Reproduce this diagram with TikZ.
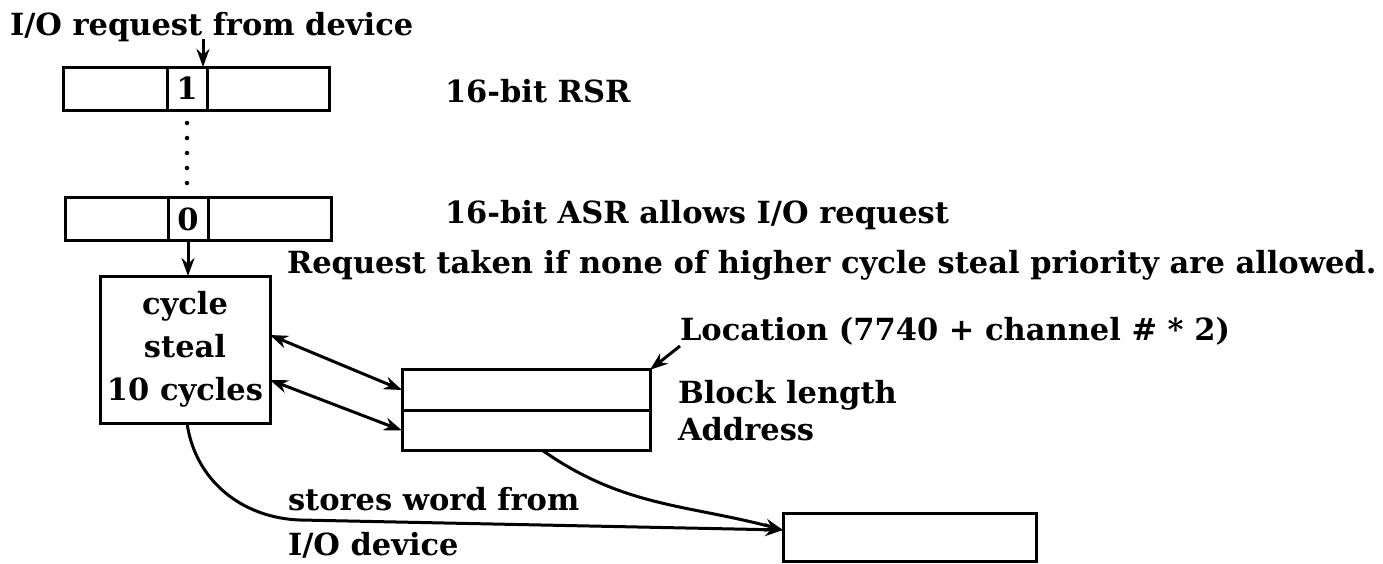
\documentclass[tikz,border=0pt]{standalone}
\usepackage{fontspec}
\setmainfont{DejaVu Serif}
\usetikzlibrary{arrows.meta,positioning,calc}

\begin{document}
\begin{tikzpicture}[x=1pt,y=-1pt,
        every node/.style={font=\fontsize{30.5}{43}\selectfont\bfseries, inner sep=0pt, outer sep=0pt},
        reg/.style={draw, line width=3pt, minimum width=266pt, minimum height=43pt},
        bit/.style={draw, line width=3pt, minimum width=40pt, minimum height=43pt},
        word/.style={draw, line width=3pt, minimum width=248pt, minimum height=40.5pt},
        note/.style={anchor=base west},
        tip/.style={Stealth[length=18pt,width=13pt]},
        arr/.style={line width=3pt, -{Stealth[length=18pt,width=13pt]}},
        dblarr/.style={line width=3pt, {Stealth[length=18pt,width=13pt]}-{Stealth[length=18pt,width=13pt]}}]
        \useasboundingbox (0,0) rectangle (1383,563);

        % request and status registers
        \node (req) [note] at (10,35) {I/O request from device};
        \node (rsr) [reg] at (196,88.5) {};
        \node (rsrbit) [bit] at (187,88.5) {1};
        \node (rsrlbl) [note] at (445,102) {16-bit RSR};

        \node (asr) [reg] at (198,219) {};
        \node (asrbit) [bit] at (188,219) {0};
        \node (asrlbl) [note] at (445,223) {16-bit ASR allows I/O request};
        \node (taken) [note] at (287,273) {Request taken if none of higher cycle steal priority are allowed.};

        % cycle steal
        \node (cs) [draw, line width=3pt, minimum width=170pt, minimum height=147pt, align=center]
            at (185,349.5) {cycle\\steal\\10 cycles};

        % channel words
        \node (blen) [word] at (526,390) {};
        \node (addr) [word, below=0pt of blen] {};
        \node (loc) [note] at (680,340) {Location (7740 + channel \# * 2)};
        \node (blenlbl) [note] at (678,403) {Block length};
        \node (addrlbl) [note] at (678,440) {Address};

        \node (mem) [draw, line width=3pt, minimum width=253pt, minimum height=48pt] at (909.5,537) {};
        \node (stores) [note] at (288,510) {stores word from};
        \node (iodev) [note] at (288,555) {I/O device};

        \coordinate (reqpt) at (203,39);
        \coordinate (locpt) at (680,346);
        \coordinate (bend) at (300,520);

        \draw[arr] (reqpt) -- (reqpt |- rsr.north);
        \draw[line width=4.5pt, line cap=round, dash pattern=on 0pt off 15pt,
              shorten <=13pt, shorten >=13pt] (rsrbit.south) -- (rsrbit.south |- asr.north);
        \draw[arr] (asrbit.south) -- (asrbit.south |- cs.north);

        \draw[dblarr] ([yshift=14.5pt]cs.east) -- (blen.west);
        \draw[dblarr] ([yshift=-30.5pt]cs.east) -- (addr.west);
        \draw[arr] (locpt) -- (blen.north east);

        \draw[arr] ([xshift=2pt]cs.south) to[out=-82,in=178] (bend) -- ([yshift=7pt]mem.west);
        \draw[arr] ([xshift=17pt]addr.south) to[out=-35,in=165] ([yshift=7pt]mem.west);
\end{tikzpicture}
\end{document}
